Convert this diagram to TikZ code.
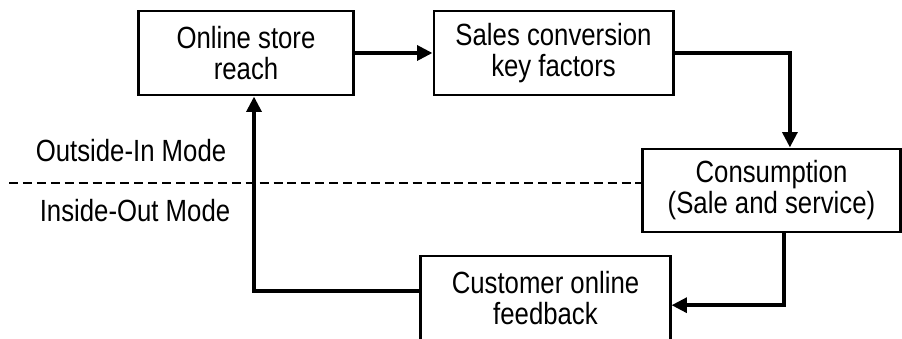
\documentclass[tikz,border=0pt]{standalone}
\usepackage{fontspec}
\setmainfont{Liberation Sans}[FakeStretch=0.84]
\usepackage{xcolor}
\usepackage{tikz}
\usetikzlibrary{arrows.meta, positioning}
\tikzset{
    myarrow/.style={-{Triangle[length=11pt,width=10.5pt]}, line width=2.8pt},
    box/.style={draw, rectangle, line width=2.1pt, fill=white, font=\fontsize{21.8}{22}\selectfont, minimum width=5.35cm, minimum height=2.1cm, align=center},
    modetext/.style={font=\fontsize{21.8}{22}\selectfont},
    modeline/.style={dash pattern=on 6.4pt off 3.5pt, line width=1.4pt}
}

\begin{document}
\begin{tikzpicture}[x=0.025cm, y=-0.025cm]
    \useasboundingbox (0,0) rectangle (902,339);
    \node (reach) [box] at (246,53) {Online store\\reach};
    \node (sales) [box, right=1.95cm of reach, minimum width=5.975cm] {Sales conversion\\key factors};
    \node (consum) [box, minimum width=6.425cm, minimum height=2.075cm] at (771.5,190.5) {Consumption\\(Sale and service)};
    \node (feedback) [box, minimum width=6.225cm] at (545.5,298) {Customer online\\feedback};
    \node (outin) [modetext] at (131,151) {Outside-In Mode};
    \node (inout) [modetext] at (135,211) {Inside-Out Mode};
    % mode border
    \coordinate (lineleft) at (9,183);
    \draw [modeline] (lineleft) -- (lineleft -| consum.west);
    % flow
    \draw [myarrow] (reach) -- (sales);
    \draw [myarrow] (sales.east) -| ([xshift=0.46cm]consum.north);
    \draw [myarrow] ([xshift=0.31cm]consum.south) |- ([yshift=-0.18cm]feedback.east);
    \draw [myarrow] ([yshift=0.18cm]feedback.west) -| ([xshift=0.2cm]reach.south);
\end{tikzpicture}
\end{document}
